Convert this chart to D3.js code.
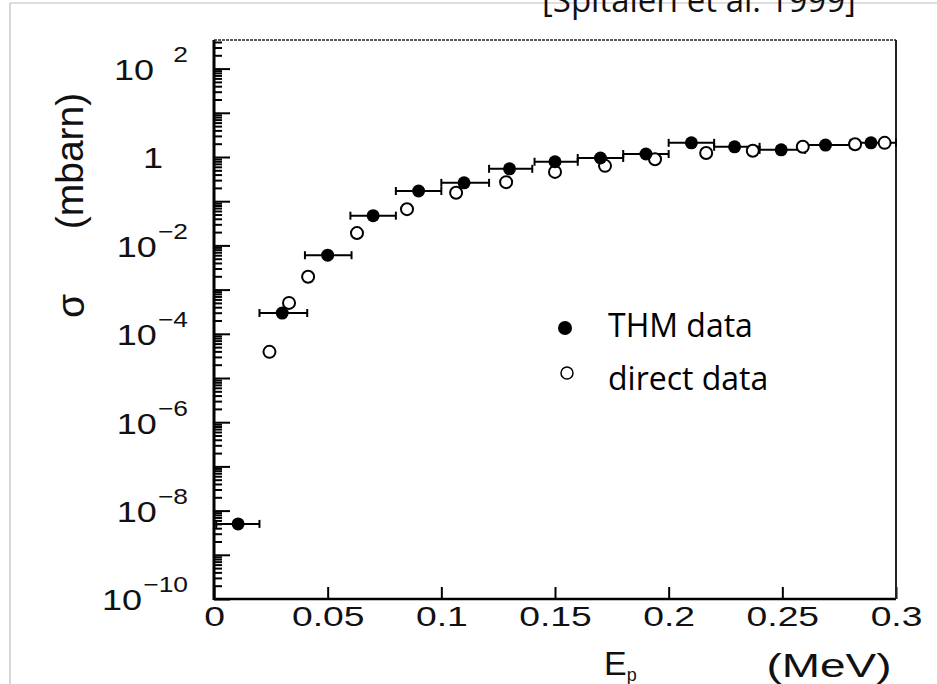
<!DOCTYPE html>
<meta charset="utf-8">
<html>
	<head>
		<title>Cross section vs Ep</title>
		<script src="https://d3js.org/d3.v7.min.js"></script>
		<style>
			body { margin: 0; background: #fff; }
			svg { display: block; }
		</style>
	</head>
	<body>
		<script>
			// THM data (filled circles): energy, cross section, x error range
			var thmE     = [0.0106, 0.030, 0.050, 0.070, 0.090, 0.110, 0.130, 0.150, 0.170, 0.190, 0.210, 0.229, 0.2495, 0.269, 0.289];
			var thmSigma = [5.0e-9, 2.95e-4, 6.0e-3, 0.047, 0.17, 0.26, 0.54, 0.78, 0.95, 1.17, 2.09, 1.70, 1.45, 1.86, 2.09];
			var thmELo   = [0.001, 0.020, 0.040, 0.060, 0.080, 0.100, 0.121, 0.141, 0.160, 0.180, 0.200, 0.220, 0.240, 0.260, 0.280];
			var thmEHi   = [0.020, 0.041, 0.0605, 0.080, 0.100, 0.121, 0.140, 0.160, 0.180, 0.200, 0.220, 0.240, 0.260, 0.280, 0.300];

			// direct data (open circles)
			var dirE     = [0.0244, 0.0330, 0.0414, 0.0629, 0.0849, 0.1065, 0.1285, 0.150, 0.172, 0.194, 0.2165, 0.237, 0.259, 0.282, 0.295];
			var dirSigma = [3.9e-5, 5.0e-4, 1.95e-3, 0.019, 0.066, 0.155, 0.27, 0.46, 0.63, 0.89, 1.23, 1.38, 1.70, 1.95, 2.09];

			var xTicks = [0, 0.05, 0.1, 0.15, 0.2, 0.25, 0.3];
			var yMajor = [1e-10, 1e-9, 1e-8, 1e-7, 1e-6, 1e-5, 1e-4, 1e-3, 1e-2, 1e-1, 1, 10, 100];
			var yLabelExp = [-10, -8, -6, -4, -2, 0, 2];

			var W = 937, H = 684;
			var plot = {left: 214, right: 896, top: 40, bottom: 599};

			var svg = d3.select("body").append("svg")
				.attr("width", W)
				.attr("height", H);

			var x = d3.scaleLinear().domain([0, 0.3]).range([plot.left, plot.right]);
			var y = d3.scaleLog().domain([1e-10, Math.pow(10, 2.647)]).range([plot.bottom, plot.top]);

			// slide border
			svg.append("line").attr("x1", 10).attr("x2", 10).attr("y1", 3).attr("y2", H)
				.attr("stroke", "#bdbdbd").attr("stroke-width", 1.2);
			svg.append("line").attr("x1", 10).attr("x2", W).attr("y1", 3).attr("y2", 3)
				.attr("stroke", "#bdbdbd").attr("stroke-width", 1.2);

			// reference
			svg.append("text")
				.attr("x", 542).attr("y", 12)
				.attr("font-family", "'Open Sans', sans-serif")
				.attr("font-size", 33)
				.attr("fill", "#111")
				.text("[Spitaleri et al. 1999]");

			//minor ticks on y
			var minors = [];
			yMajor.forEach(function(d) {
				for (var k = 2; k <= 9; k++) if (d * k < y.domain()[1]) minors.push(d * k);
			});

			svg.append("g")
				.attr("transform", "translate(" + plot.left + ",0)")
				.call(d3.axisLeft(y).tickValues(minors).tickSize(-8).tickFormat(""))
				.call(function(g) { g.select(".domain").remove(); })
				.selectAll("line").attr("stroke", "#000").attr("stroke-width", 2);

			var yAxis = svg.append("g")
				.attr("transform", "translate(" + plot.left + ",0)")
				.call(d3.axisLeft(y).tickValues(yMajor).tickSize(-16).tickFormat(""))
				.call(function(g) { g.select(".domain").remove(); });
			yAxis.selectAll("line").attr("stroke", "#000").attr("stroke-width", 2);

			//y labels 10^n
			yAxis.selectAll(".tick").each(function(d) {
				var e = Math.round(Math.log10(d));
				if (yLabelExp.indexOf(e) < 0) return;
				var t = d3.select(this).append("text")
					.attr("fill", "#111")
					.attr("font-family", "'Liberation Sans', Arial, sans-serif")
					.attr("font-size", 30)
					.attr("transform", "scale(1.2,1)");
				if (e === 0) {
					t.attr("x", -61 / 1.2).attr("text-anchor", "middle")
						.attr("dy", "0.36em").text("1");
					return;
				}
				t.attr("x", -26 / 1.2).attr("text-anchor", "end");
				t.append("tspan").attr("dy", "0.36em").text("10");
				t.append("tspan")
					.attr("font-size", 22)
					.attr("dx", e > 0 ? 16 : 1)
					.attr("dy", -18)
					.text(e > 0 ? String(e) : "\u2212" + (-e));
			});

			//x axis
			var xAxis = svg.append("g")
				.attr("transform", "translate(0," + plot.bottom + ")")
				.call(d3.axisBottom(x).tickValues(xTicks).tickSize(-12).tickPadding(8)
					.tickFormat(d3.format("~g")))
				.call(function(g) { g.select(".domain").remove(); });
			xAxis.selectAll("line").attr("stroke", "#000").attr("stroke-width", 2);
			xAxis.selectAll("text")
				.attr("fill", "#111")
				.attr("font-family", "'Liberation Sans', Arial, sans-serif")
				.attr("font-size", 27)
				.attr("transform", "scale(1.38,1)");

			// frame
			svg.append("line").attr("x1", plot.left).attr("x2", plot.left).attr("y1", plot.top).attr("y2", plot.bottom + 1)
				.attr("stroke", "#000").attr("stroke-width", 3);
			svg.append("line").attr("x1", plot.left).attr("x2", plot.right).attr("y1", plot.bottom).attr("y2", plot.bottom)
				.attr("stroke", "#000").attr("stroke-width", 2.5);
			svg.append("line").attr("x1", plot.right).attr("x2", plot.right).attr("y1", plot.top).attr("y2", plot.bottom)
				.attr("stroke", "#222").attr("stroke-width", 2);
			svg.append("line").attr("x1", plot.left).attr("x2", plot.right).attr("y1", plot.top).attr("y2", plot.top)
				.attr("stroke", "#222").attr("stroke-width", 1.5).attr("stroke-dasharray", "3,1");

			var thm = thmE.map(function(e, i) {
				return {e: e, s: thmSigma[i], lo: thmELo[i], hi: thmEHi[i]};
			});
			var dir = dirE.map(function(e, i) { return {e: e, s: dirSigma[i]}; });

			//error bars
			var eb = svg.append("g").attr("stroke", "#000").attr("stroke-width", 2);
			eb.selectAll(".bar").data(thm).enter().append("line")
				.attr("x1", function(d) { return x(d.lo); })
				.attr("x2", function(d) { return x(d.hi); })
				.attr("y1", function(d) { return y(d.s); })
				.attr("y2", function(d) { return y(d.s); });
			eb.selectAll(".capl").data(thm).enter().append("line")
				.attr("x1", function(d) { return x(d.lo); })
				.attr("x2", function(d) { return x(d.lo); })
				.attr("y1", function(d) { return y(d.s) - 4; })
				.attr("y2", function(d) { return y(d.s) + 4; });
			eb.selectAll(".capr").data(thm).enter().append("line")
				.attr("x1", function(d) { return x(d.hi); })
				.attr("x2", function(d) { return x(d.hi); })
				.attr("y1", function(d) { return y(d.s) - 4; })
				.attr("y2", function(d) { return y(d.s) + 4; });

			svg.append("g").selectAll("circle").data(dir).enter().append("circle")
				.attr("cx", function(d) { return x(d.e); })
				.attr("cy", function(d) { return y(d.s); })
				.attr("r", 6)
				.attr("fill", "#fff")
				.attr("stroke", "#000")
				.attr("stroke-width", 2);

			svg.append("g").selectAll("circle").data(thm).enter().append("circle")
				.attr("cx", function(d) { return x(d.e); })
				.attr("cy", function(d) { return y(d.s); })
				.attr("r", 6.5)
				.attr("fill", "#000");

			// axis titles
			svg.append("text")
				.attr("transform", "translate(83,161) rotate(-90)")
				.attr("text-anchor", "middle")
				.attr("font-family", "'Liberation Sans', Arial, sans-serif")
				.attr("font-size", 39)
				.attr("fill", "#111")
				.text("(mbarn)");
			svg.append("text")
				.attr("transform", "translate(84,306) rotate(-90)")
				.attr("text-anchor", "middle")
				.attr("font-family", "'Liberation Sans', Arial, sans-serif")
				.attr("font-size", 39)
				.attr("fill", "#111")
				.text("σ");

			var ep = svg.append("text")
				.attr("x", 604).attr("y", 675)
				.attr("font-family", "'Liberation Sans', Arial, sans-serif")
				.attr("font-size", 34)
				.attr("fill", "#111");
			ep.append("tspan").text("E");
			ep.append("tspan").attr("font-size", 18).attr("dy", 6).text("p");

			svg.append("text")
				.attr("transform", "translate(829,677) scale(1.35,1)")
				.attr("text-anchor", "middle")
				.attr("font-family", "'Liberation Sans', Arial, sans-serif")
				.attr("font-size", 34)
				.attr("fill", "#111")
				.text("(MeV)");

			// legend
			var legend = svg.append("g")
				.attr("font-family", "'Open Sans', sans-serif")
				.attr("font-size", 32)
				.attr("fill", "#000");
			legend.append("circle").attr("cx", 565).attr("cy", 328).attr("r", 7).attr("fill", "#000");
			legend.append("text").attr("x", 608).attr("y", 337).text("THM data");
			legend.append("circle").attr("cx", 567).attr("cy", 373).attr("r", 6)
				.attr("fill", "#fff").attr("stroke", "#000").attr("stroke-width", 1.5);
			legend.append("text").attr("x", 608).attr("y", 390).text("direct data");
		</script>
	</body>
</html>
